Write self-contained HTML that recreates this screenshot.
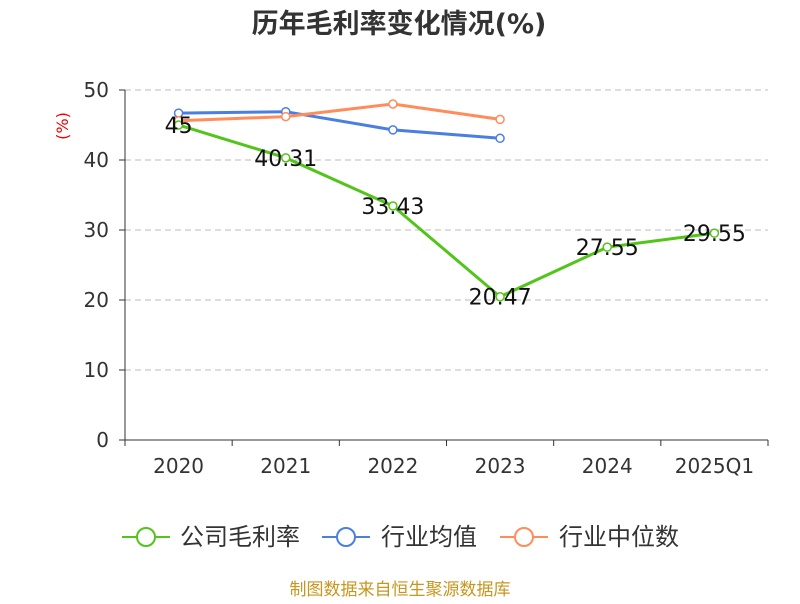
<!DOCTYPE html>
<html><head><meta charset="utf-8"><style>
body{margin:0;background:#fff;font-family:"DejaVu Sans","Noto Sans CJK SC",sans-serif}
</style></head><body>
<svg width="800" height="600" id="c" font-family="DejaVu Sans, Noto Sans CJK SC, sans-serif">
<text x="399" y="33" text-anchor="middle" font-size="27" font-weight="bold" fill="#333">历年毛利率变化情况(%)</text>
<text x="68" y="126" font-size="16" fill="#e00" transform="rotate(-90 68 126)" text-anchor="middle">(%)</text>
<g id="grid"></g><g id="series"></g>
<g font-size="24" fill="#333">
<g><line x1="122" y1="537" x2="170" y2="537" stroke="#52c41a" stroke-width="2"/><circle cx="146" cy="537" r="9" fill="#fff" stroke="#52c41a" stroke-width="2"/><text x="180" y="545">公司毛利率</text></g>
<g><line x1="322" y1="537" x2="370" y2="537" stroke="#4a7fe0" stroke-width="2"/><circle cx="346" cy="537" r="9" fill="#fff" stroke="#4a7fe0" stroke-width="2"/><text x="381" y="545">行业均值</text></g>
<g><line x1="500" y1="537" x2="548" y2="537" stroke="#ff8c5a" stroke-width="2"/><circle cx="524" cy="537" r="9" fill="#fff" stroke="#ff8c5a" stroke-width="2"/><text x="559" y="545">行业中位数</text></g>
</g>
<text x="400" y="595" text-anchor="middle" font-size="17" fill="#c8961e">制图数据来自恒生聚源数据库</text>
</svg>
<script>
const categories=["2020","2021","2022","2023","2024","2025Q1"];
const company=[45,40.31,33.43,20.47,27.55,29.55];
const companyLabels=["45","40.31","33.43","20.47","27.55","29.55"];
const industryAvg=[46.7,46.9,44.3,43.1];
const industryMedian=[45.6,46.2,48.0,45.8];
const yTicks=[0,10,20,30,40,50];
const NS="http://www.w3.org/2000/svg";
const x0=125,x1=768,yTop=90,yBot=440;
const bw=(x1-x0)/categories.length;
const X=i=>x0+bw*(i+0.5);
const Y=v=>yBot-(v/50)*(yBot-yTop);
function mk(t,a,p){const e=document.createElementNS(NS,t);for(const k in a)e.setAttribute(k,a[k]);p.appendChild(e);return e;}
const g=document.getElementById('grid'),s=document.getElementById('series');
yTicks.forEach(v=>{
 if(v>0){const l=mk('line',{x1:x0,x2:x1,y1:Y(v),y2:Y(v),stroke:'#bbb','stroke-dasharray':'6,4'},g);
 
 }
 const tk=mk('line',{x1:x0-6,x2:x0,y1:Y(v),y2:Y(v),stroke:'#333'},g);
 
 
 const t=mk('text',{x:x0-16,y:Y(v)+7,'text-anchor':'end','font-size':20,fill:'#333'},g);t.textContent=v;
 
 
});
let ax=mk('line',{x1:x0,x2:x0,y1:yTop,y2:yBot,stroke:'#333'},g);


ax=mk('line',{x1:x0,x2:x1,y1:yBot,y2:yBot,stroke:'#333'},g);


for(let i=0;i<=categories.length;i++){const t=mk('line',{x1:x0+bw*i,x2:x0+bw*i,y1:yBot,y2:yBot+6,stroke:'#333'},g);
 
 }
categories.forEach((c,i)=>{const t=mk('text',{x:X(i),y:yBot+33,'text-anchor':'middle','font-size':20,fill:'#333'},g);t.textContent=c;
 
 });
function series(d,col,name,labels){
 const p=mk('polyline',{points:d.map((v,i)=>X(i)+','+Y(v)).join(' '),fill:'none',stroke:col,'stroke-width':3},s);
 
 
 d.forEach((v,i)=>{const c=mk('circle',{cx:X(i),cy:Y(v),r:4,fill:'#fff',stroke:col,'stroke-width':1.5},s);
  
  
  if(labels){const t=mk('text',{x:X(i),y:Y(v)+8,'text-anchor':'middle','font-size':22,fill:'#111'},s);t.textContent=labels[i];
   
   }
 });
}
series(industryAvg,'#4a7fe0','industry-avg');
series(industryMedian,'#ff8c5a','industry-median');
series(company,'#52c41a','company',companyLabels);
</script>
</body></html>
